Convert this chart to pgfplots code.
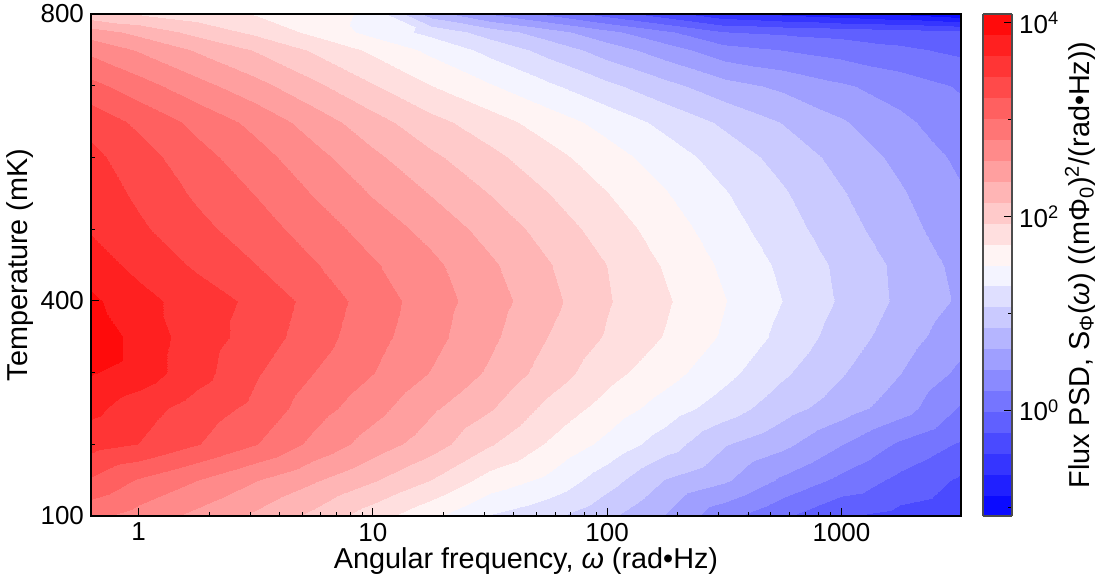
\documentclass[border=0pt]{standalone}
\usepackage{pgfplots}
\pgfplotsset{compat=1.18}
\usepackage{pgfplotstable}
\usepackage{fontspec}
\setmainfont{Liberation Sans}
% columns: w (rad Hz), T (mK), z = log10 PSD
\pgfplotstableread{
w T z
0.627 100 2.85
1 100 2.71
1.778 100 2.52
3.162 100 2.32
5.623 100 2.09
10 100 1.81
17.78 100 1.55
31.62 100 1.27
56.23 100 1.12
100 100 0.90
177.8 100 0.62
316.2 100 0.27
562.3 100 0.02
1000 100 -0.21
1778 100 -0.30
3236 100 -0.38
0.627 150 3.20
1 150 2.99
1.778 150 2.80
3.162 150 2.59
5.623 150 2.39
10 150 2.17
17.78 150 1.93
31.62 150 1.63
56.23 150 1.45
100 150 1.16
177.8 150 0.84
316.2 150 0.67
562.3 150 0.38
1000 150 0.15
1778 150 -0.07
3236 150 -0.26
0.627 200 3.53
1 200 3.44
1.778 200 3.24
3.162 200 3.02
5.623 200 2.74
10 200 2.48
17.78 200 2.25
31.62 200 1.95
56.23 200 1.69
100 200 1.44
177.8 200 1.17
316.2 200 0.87
562.3 200 0.69
1000 200 0.43
1778 200 0.17
3236 200 -0.04
0.627 250 3.72
1 250 3.54
1.778 250 3.35
3.162 250 3.17
5.623 250 2.89
10 250 2.66
17.78 250 2.40
31.62 250 2.17
56.23 250 1.87
100 250 1.63
177.8 250 1.40
316.2 250 1.18
562.3 250 0.94
1000 250 0.74
1778 250 0.52
3236 250 0.18
0.627 300 3.89
1 300 3.78
1.778 300 3.53
3.162 300 3.25
5.623 300 3.01
10 300 2.80
17.78 300 2.57
31.62 300 2.33
56.23 300 2.05
100 300 1.79
177.8 300 1.58
316.2 300 1.35
562.3 300 1.10
1000 300 0.87
1778 300 0.64
3236 300 0.37
0.627 350 4.06
1 350 3.78
1.778 350 3.56
3.162 350 3.35
5.623 350 3.11
10 350 2.87
17.78 350 2.65
31.62 350 2.41
56.23 350 2.14
100 350 1.91
177.8 350 1.70
316.2 350 1.47
562.3 350 1.22
1000 350 0.97
1778 350 0.74
3236 350 0.50
0.627 400 3.92
1 400 3.73
1.778 400 3.56
3.162 400 3.39
5.623 400 3.15
10 400 2.91
17.78 400 2.68
31.62 400 2.46
56.23 400 2.21
100 400 1.95
177.8 400 1.74
316.2 400 1.51
562.3 400 1.28
1000 400 1.04
1778 400 0.81
3236 400 0.60
0.627 450 3.76
1 450 3.60
1.778 450 3.41
3.162 450 3.23
5.623 450 3.03
10 450 2.82
17.78 450 2.63
31.62 450 2.40
56.23 450 2.16
100 450 1.93
177.8 450 1.69
316.2 450 1.46
562.3 450 1.24
1000 450 1.02
1778 450 0.80
3236 450 0.57
0.627 500 3.64
1 500 3.48
1.778 500 3.29
3.162 500 3.11
5.623 500 2.91
10 500 2.70
17.78 500 2.51
31.62 500 2.28
56.23 500 2.06
100 500 1.83
177.8 500 1.61
316.2 500 1.38
562.3 500 1.16
1000 500 0.94
1778 500 0.72
3236 500 0.50
0.627 550 3.57
1 550 3.40
1.778 550 3.19
3.162 550 3.00
5.623 550 2.78
10 550 2.56
17.78 550 2.35
31.62 550 2.14
56.23 550 1.93
100 550 1.72
177.8 550 1.51
316.2 550 1.30
562.3 550 1.09
1000 550 0.87
1778 550 0.66
3236 550 0.44
0.627 600 3.50
1 600 3.32
1.778 600 3.09
3.162 600 2.88
5.623 600 2.65
10 600 2.41
17.78 600 2.19
31.62 600 1.99
56.23 600 1.79
100 600 1.59
177.8 600 1.39
316.2 600 1.19
562.3 600 0.99
1000 600 0.78
1778 600 0.58
3236 600 0.37
0.627 650 3.37
1 650 3.18
1.778 650 2.95
3.162 650 2.73
5.623 650 2.48
10 650 2.23
17.78 650 2.00
31.62 650 1.81
56.23 650 1.61
100 650 1.42
177.8 650 1.22
316.2 650 1.03
562.3 650 0.84
1000 650 0.66
1778 650 0.47
3236 650 0.28
0.627 700 3.08
1 700 2.89
1.778 700 2.66
3.162 700 2.44
5.623 700 2.20
10 700 1.95
17.78 700 1.72
31.62 700 1.52
56.23 700 1.32
100 700 1.12
177.8 700 0.92
316.2 700 0.72
562.3 700 0.59
1000 700 0.45
1778 700 0.32
3236 700 0.18
0.627 750 2.74
1 750 2.56
1.778 750 2.34
3.162 750 2.13
5.623 750 1.90
10 750 1.67
17.78 750 1.45
31.62 750 1.22
56.23 750 0.99
100 750 0.75
177.8 750 0.52
316.2 750 0.29
562.3 750 0.20
1000 750 0.12
1778 750 0.03
3236 750 -0.06
0.627 775 2.47
1 775 2.30
1.778 775 2.08
3.162 775 1.88
5.623 775 1.66
10 775 1.43
17.78 775 1.22
31.62 775 0.97
56.23 775 0.73
100 775 0.48
177.8 775 0.24
316.2 775 -0.01
562.3 775 -0.05
1000 775 -0.09
1778 775 -0.13
3236 775 -0.17
0.627 800 2.00
1 800 1.92
1.778 800 1.82
3.162 800 1.70
5.623 800 1.60
10 800 1.45
17.78 800 0.75
31.62 800 0.41
56.23 800 0.16
100 800 -0.10
177.8 800 -0.35
316.2 800 -0.60
562.3 800 -0.70
1000 800 -0.80
1778 800 -0.90
3236 800 -1.05
}\psd
\begin{document}
\begin{tikzpicture}
\begin{axis}[
  name=main,
  scale only axis, width=435pt, height=251pt,
  xmode=log, xmin=0.627, xmax=3236, ymin=100, ymax=800,
  xtick={1,10,100,1000}, xticklabels={1,10,100,1000},
  minor xtick={},
  ytick={100,400,800}, yticklabels={100,400,800},
  minor ytick={200,300,500,600,700},
  xtick pos=bottom, ytick pos=left,
  tick align=inside,
  major tick length=4pt, minor tick length=2.2pt,
  every tick/.style={black, line width=0.5pt},
  axis line style={line width=1pt},
  axis on top,
  tick label style={font=\fontsize{13}{15}\selectfont},
  label style={font=\fontsize{14.4}{17}\selectfont},
  xlabel={Angular frequency, \textit{ω} (rad•Hz)},
  ylabel={Temperature (mK)},
  xlabel style={at={(axis description cs:0.5,-0.089)}, anchor=center},
  ylabel style={at={(axis description cs:-0.0816,0.5)}, anchor=center},
  colormap={bwr24}{rgb255=(11,11,255) rgb255=(32,32,255) rgb255=(53,53,255) rgb255=(74,74,255) rgb255=(96,96,255) rgb255=(117,117,255) rgb255=(138,138,255) rgb255=(159,159,255) rgb255=(181,181,255) rgb255=(202,202,255) rgb255=(223,223,255) rgb255=(244,244,255) rgb255=(255,244,244) rgb255=(255,223,223) rgb255=(255,202,202) rgb255=(255,181,181) rgb255=(255,159,159) rgb255=(255,138,138) rgb255=(255,117,117) rgb255=(255,96,96) rgb255=(255,74,74) rgb255=(255,53,53) rgb255=(255,32,32) rgb255=(255,11,11)},
  colormap access=piecewise constant,
  point meta min=-1.093, point meta max=4.092,
  colorbar,
  colorbar style={
    scale only axis, width=14.5pt,
    at={(parent axis.north east)}, anchor=north west, xshift=2.5pt,
    ytick={0,2,4},
    yticklabels={10\textsuperscript{0},10\textsuperscript{2},10\textsuperscript{4}},
    minor ytick={-1,1,3},
    ytick pos=right, yticklabel pos=right, tick align=inside,
    major tick length=4pt, minor tick length=2.2pt,
    every tick/.style={black, line width=0.5pt},
    axis line style={line width=0.6pt, black!70},
    tick label style={font=\fontsize{13}{15}\selectfont},
    ylabel style={font=\fontsize{14.4}{17}\selectfont, at={(axis description cs:3.345,0.5)}, anchor=center},
    ylabel={Flux PSD, S\textsubscript{Φ}(\textit{ω}) ((mΦ\textsubscript{0})\textsuperscript{2}/(rad•Hz))},
  },
]
\addplot[surf, shader=interp, mesh/rows=16, mesh/cols=16, point meta=\thisrow{z}] table[x=w, y=T] {\psd};
\end{axis}
\pgfresetboundingbox
\path (main.south west) ++(-45.5pt,-33.5pt) rectangle ++(552.5pt,291.5pt);
\end{tikzpicture}
\end{document}
